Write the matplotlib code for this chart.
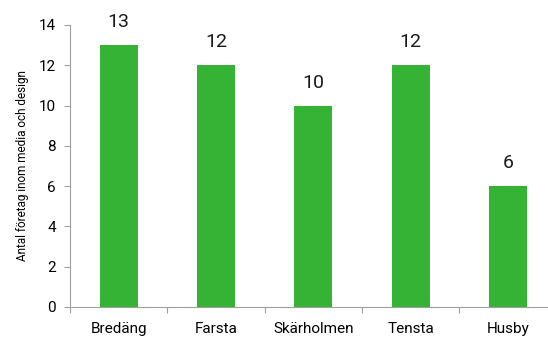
import matplotlib.pyplot as plt

# data
areas = ["Bredäng", "Farsta", "Skärholmen", "Tensta", "Husby"]
counts = [13, 12, 10, 12, 6]

plt.rcParams["font.family"] = ["Roboto", "DejaVu Sans"]

fig = plt.figure(figsize=(5.48, 3.38), dpi=100)
# axes runs slightly past the right edge like the original
ax = fig.add_axes([70 / 548, 31 / 338, 486.5 / 548, 282 / 338])

x = range(len(areas))
bars = ax.bar(x, counts, width=0.39, color="#35b335", zorder=2)

for b, v in zip(bars, counts):
    ax.annotate(str(v), (b.get_x() + b.get_width() / 2, v),
                xytext=(0, 10), textcoords="offset points",
                ha="center", va="bottom", fontsize=14, color="#1a1a1a")

ax.set_xlim(-0.5, len(areas) - 0.5)
ax.set_ylim(0, 14)
ax.set_yticks(range(0, 15, 2))
ax.set_xticks([i + 0.5 for i in range(-1, len(areas) - 1)], minor=False)
ax.set_xticklabels([""] * len(areas))
ax.set_xticks(list(x), minor=True)
ax.set_xticklabels(areas, minor=True)
ax.tick_params(axis="x", which="minor", length=0, pad=11, labelsize=11)
ax.tick_params(axis="x", which="major", length=4, color="#a0a0a0")
ax.tick_params(axis="y", length=4, color="#a0a0a0", labelsize=11, pad=6)

for s in ["top", "right"]:
    ax.spines[s].set_visible(False)
for s in ["left", "bottom"]:
    ax.spines[s].set_color("#a0a0a0")

ax.set_ylabel("Antal företag inom media och design", fontsize=8.5, labelpad=7)

fig.savefig("out.png", dpi=100)
